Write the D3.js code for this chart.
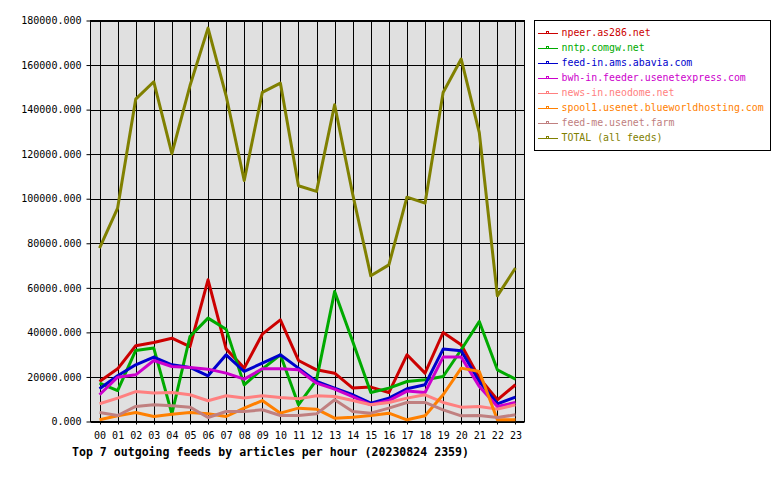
<!DOCTYPE html>
<html>
<head>
<meta charset="utf-8">
<script src="https://cdn.jsdelivr.net/npm/d3@7"></script>
<style>
  html, body { margin: 0; padding: 0; background: #ffffff; }
  svg { display: block; }
  text { font-family: "DejaVu Sans Mono", "Liberation Mono", monospace; }
</style>
</head>
<body>
<svg id="chart" width="780" height="480"></svg>
<script>
const hours = ["00","01","02","03","04","05","06","07","08","09","10","11","12","13","14","15","16","17","18","19","20","21","22","23"];
const yTicks = [0, 20000, 40000, 60000, 80000, 100000, 120000, 140000, 160000, 180000];

const seriesNames = [
  "npeer.as286.net",
  "nntp.comgw.net",
  "feed-in.ams.abavia.com",
  "bwh-in.feeder.usenetexpress.com",
  "news-in.neodome.net",
  "spool1.usenet.blueworldhosting.com",
  "feed-me.usenet.farm",
  "TOTAL (all feeds)"
];
const seriesColors = ["#cc0000", "#00aa00", "#0000cc", "#cc00cc", "#ff8080", "#ff8000", "#c08080", "#808000"];

const npeer    = [17960, 23650, 33980, 35460, 37400, 33650, 63600, 32600, 23950, 39200, 45650, 27400, 23200, 21700, 15000, 15450, 13000, 29950, 21700, 39950, 34450, 19500, 9750, 16500];
const nntp     = [17200, 13900, 31900, 32950, 3450, 38150, 46400, 41450, 16450, 23500, 29950, 7500, 18700, 58370, 35900, 13000, 15000, 17950, 18700, 20200, 32200, 44900, 23200, 19000];
const abavia   = [14700, 20500, 25450, 28900, 25450, 24250, 20500, 29950, 22450, 26200, 29950, 23950, 17950, 15000, 12000, 8250, 10500, 14700, 16500, 32500, 31750, 17950, 7950, 10950];
const bwh      = [12000, 19900, 20950, 27400, 24700, 24250, 23500, 21700, 19000, 23650, 23650, 23200, 17200, 14550, 11200, 7500, 9400, 13650, 13000, 28900, 28900, 15700, 6750, 8550];
const neodome  = [7950, 10500, 13450, 12750, 13000, 12000, 9300, 11550, 10500, 11550, 10750, 10200, 11550, 11200, 9400, 7500, 8550, 10500, 12000, 8550, 6450, 6750, 5550, 7500];
const spool1   = [750, 2550, 4050, 2250, 3300, 4050, 3450, 2250, 6000, 9400, 3750, 6000, 5550, 1500, 1950, 2700, 3750, 750, 2550, 12000, 23950, 22450, 750, 750];
const farm     = [4050, 2700, 6750, 7500, 7050, 6450, 1800, 4500, 4500, 5250, 2700, 2700, 3450, 9750, 4500, 3750, 6000, 8550, 8550, 5250, 2550, 2700, 1800, 3000];
const total    = [77800, 95800, 144700, 152500, 120200, 150700, 176600, 146200, 108200, 147700, 151900, 105800, 103300, 142200, 102000, 65400, 70300, 100700, 98000, 147700, 162700, 129700, 56400, 68900];

const seriesValues = [npeer, nntp, abavia, bwh, neodome, spool1, farm, total];

const svg = d3.select("#chart");

const x = d3.scaleLinear().domain([-0.5, 23.5]).range([90.5, 524.5]);
const y = d3.scaleLinear().domain([0, 180000]).range([421.5, 20.5]);

// plot background
svg.append("rect")
  .attr("x", x(-0.5)).attr("y", y(180000))
  .attr("width", x(23.5) - x(-0.5)).attr("height", y(0) - y(180000))
  .attr("fill", "#e0e0e0");

// grid lines
const grid = svg.append("g");
grid.selectAll("line.h").data(yTicks).join("line")
  .attr("x1", x(-0.5)).attr("x2", x(23.5))
  .attr("y1", d => Math.round(y(d)) + 0.5).attr("y2", d => Math.round(y(d)) + 0.5)
  .attr("stroke", "#000").attr("stroke-width", 1);
grid.selectAll("line.v").data(hours).join("line")
  .attr("x1", (d, i) => Math.round(x(i)) + 0.5).attr("x2", (d, i) => Math.round(x(i)) + 0.5)
  .attr("y1", y(180000)).attr("y2", y(0) + 3)
  .attr("stroke", "#000").attr("stroke-width", 1);

// frame
svg.append("rect")
  .attr("x", x(-0.5)).attr("y", y(180000))
  .attr("width", x(23.5) - x(-0.5)).attr("height", y(0) - y(180000))
  .attr("fill", "none").attr("stroke", "#000").attr("stroke-width", 1);

// y axis
const yAxis = d3.axisLeft(y).tickValues(yTicks).tickSize(4).tickPadding(5)
  .tickFormat(d => d3.format(".3f")(d));
const yg = svg.append("g").attr("transform", `translate(${x(-0.5)},0)`).call(yAxis);
yg.select(".domain").remove();
yg.selectAll("line").attr("stroke", "#000");
yg.selectAll("text").attr("font-size", "10px").attr("fill", "#000")
  .attr("font-family", "DejaVu Sans Mono, monospace");

// x axis labels
const xAxis = d3.axisBottom(x).tickValues(d3.range(hours.length)).tickSize(0).tickPadding(10)
  .tickFormat(i => hours[i]);
const xg = svg.append("g").attr("transform", `translate(0,${y(0)})`).call(xAxis);
xg.select(".domain").remove();
xg.selectAll("text").attr("font-size", "10px").attr("fill", "#000")
  .attr("font-family", "DejaVu Sans Mono, monospace");

// series lines
const line = d3.line().x((d, i) => x(i)).y(d => y(d));
svg.append("g").selectAll("path").data(seriesValues).join("path")
  .attr("d", d => line(d))
  .attr("fill", "none")
  .attr("stroke", (d, i) => seriesColors[i])
  .attr("stroke-width", 3)
  .attr("stroke-linejoin", "round");

// title
svg.append("text")
  .attr("x", 72).attr("y", 456)
  .attr("font-size", "11.6px").attr("font-weight", "bold").attr("fill", "#000")
  .attr("textLength", 397).attr("lengthAdjust", "spacingAndGlyphs")
  .text("Top 7 outgoing feeds by articles per hour (20230824 2359)");

// legend
const lg = svg.append("g");
lg.append("rect").attr("x", 534.5).attr("y", 20.5).attr("width", 236).attr("height", 130)
  .attr("fill", "#fff").attr("stroke", "#000").attr("stroke-width", 1);
const items = lg.selectAll("g.item").data(seriesNames).join("g")
  .attr("transform", (d, i) => `translate(0,${33 + i * 15})`);
items.append("line").attr("x1", 538).attr("x2", 558).attr("y1", 0.5).attr("y2", 0.5)
  .attr("stroke", (d, i) => seriesColors[i]).attr("stroke-width", 1);
items.append("rect").attr("x", 546.5).attr("y", -1.5).attr("width", 2).attr("height", 2)
  .attr("fill", "none").attr("stroke", (d, i) => seriesColors[i]).attr("stroke-width", 1);
items.append("text").attr("x", 561.5).attr("y", 0).attr("dy", "0.35em")
  .attr("font-size", "9.9px").attr("fill", (d, i) => seriesColors[i])
  .text(d => d);
</script>
</body>
</html>
